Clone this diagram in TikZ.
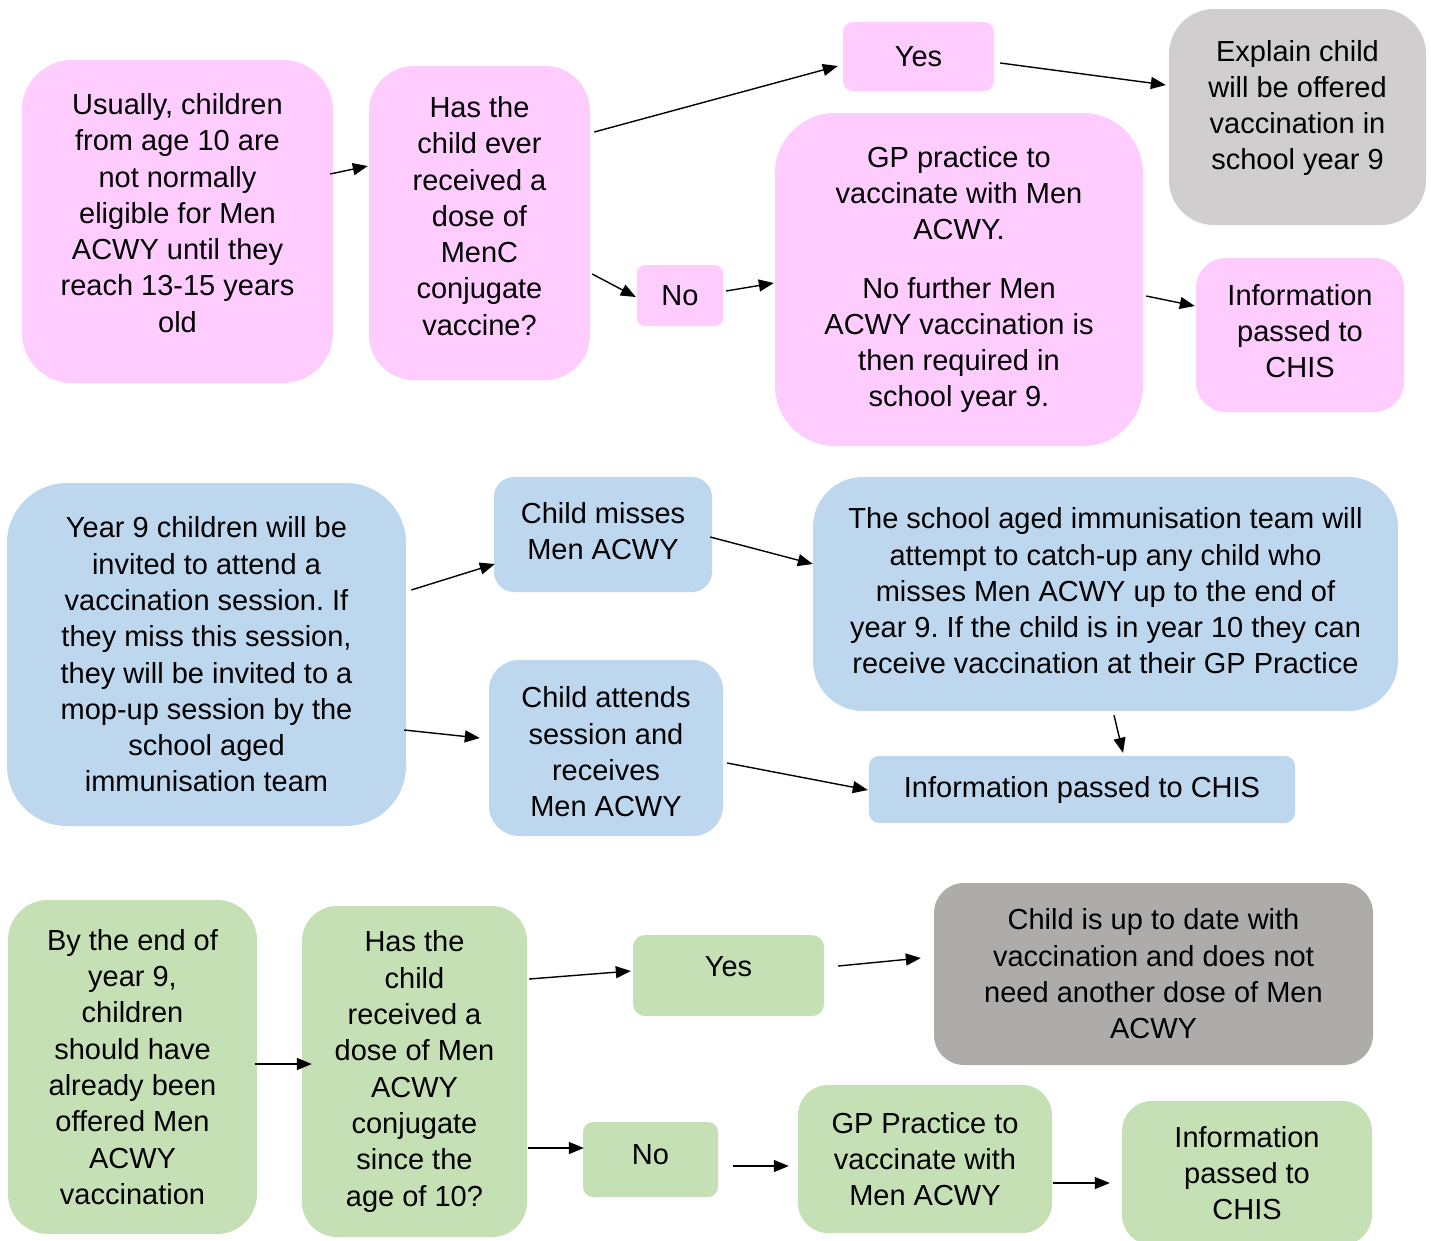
\documentclass[tikz,border=0pt]{standalone}
\usepackage{fontspec}
\setmainfont{Liberation Sans}
\usetikzlibrary{arrows.meta,calc}
\definecolor{pinkc}{HTML}{FFCCFF}
\definecolor{bluec}{HTML}{BDD7EE}
\definecolor{greenc}{HTML}{C5E0B4}
\definecolor{greyl}{HTML}{D0CECE}
\definecolor{greyd}{HTML}{AEABAB}
\frenchspacing
\begin{document}
\begin{tikzpicture}[x=1pt,y=-1pt,
 box/.style={inner sep=0pt, align=center, font=\fontsize{29}{36.3}\selectfont},
 txt/.style={inner sep=0pt, align=center, font=\fontsize{29}{36.3}\selectfont},
 arr/.style={line width=1.4pt, -{Triangle[length=15pt,width=12pt]}}]
\useasboundingbox (0,0) rectangle (1431,1240);
% ---------- pink row ----------
\node[box, fill=pinkc, rounded corners=50pt, minimum width=311pt, minimum height=323pt] (A) at (177.5,221.5) {};
\node[txt] (At) at (177.5,213) {Usually, children\\from age 10 are\\not normally\\eligible for Men\\ACWY until they\\reach 13-15 years\\old};
\node[box, fill=pinkc, rounded corners=45pt, minimum width=221pt, minimum height=314pt] (B) at (479.5,223) {};
\node[txt] (Bt) at (479.5,216) {Has the\\child ever\\received a\\dose of\\MenC\\conjugate\\vaccine?};
\node[box, fill=pinkc, rounded corners=10pt, minimum width=151pt, minimum height=69pt] (YT) at (918.5,56.5) {Yes};
\node[box, fill=pinkc, rounded corners=8pt, minimum width=86pt, minimum height=61pt] (NT) at (680,295.5) {No};
\node[box, fill=pinkc, rounded corners=60pt, minimum width=368pt, minimum height=333pt] (C) at (959,279.5) {GP practice to\\vaccinate with Men\\ACWY.\\[22pt]No further Men\\ACWY vaccination is\\then required in\\school year 9.};
\node[box, fill=greyl, rounded corners=45pt, minimum width=257pt, minimum height=216pt] (D) at (1297.5,117) {};
\node[txt] (Dt) at (1297.5,108) {Explain child\\will be offered\\vaccination in\\school year 9};
\node[box, fill=pinkc, rounded corners=30pt, minimum width=208pt, minimum height=154pt] (E) at (1300,335) {};
\node[txt] (Et) at (1300,331) {Information\\passed to\\CHIS};
% ---------- blue row ----------
\node[box, fill=bluec, rounded corners=60pt, minimum width=399pt, minimum height=343pt] (F) at (206.5,654.5) {Year 9 children will be\\invited to attend a\\vaccination session. If\\they miss this session,\\they will be invited to a\\mop-up session by the\\school aged\\immunisation team};
\node[box, fill=bluec, rounded corners=20pt, minimum width=218pt, minimum height=115pt] (G) at (603,534.5) {};
\node[txt] (Gt) at (603,531) {Child misses\\Men ACWY};
\node[box, fill=bluec, rounded corners=30pt, minimum width=234pt, minimum height=176pt] (H) at (606,748) {};
\node[txt] (Ht) at (606,752) {Child attends\\session and\\receives\\Men ACWY};
\node[box, fill=bluec, rounded corners=50pt, minimum width=585pt, minimum height=234pt] (I) at (1105.5,594) {};
\node[txt] (It) at (1105.5,591) {The school aged immunisation team will\\attempt to catch-up any child who\\misses Men ACWY up to the end of\\year 9. If the child is in year 10 they can\\receive vaccination at their GP Practice};
\node[box, fill=bluec, rounded corners=10pt, minimum width=426pt, minimum height=67pt] (J) at (1082,789.5) {Information passed to CHIS};
% ---------- green row ----------
\node[box, fill=greenc, rounded corners=40pt, minimum width=249pt, minimum height=334pt] (K) at (132.5,1067) {By the end of\\year 9,\\children\\should have\\already been\\offered Men\\ACWY\\vaccination};
\node[box, fill=greenc, rounded corners=35pt, minimum width=225pt, minimum height=331pt] (L) at (414.5,1071.5) {Has the\\child\\received a\\dose of Men\\ACWY\\conjugate\\since the\\age of 10?};
\node[box, fill=greenc, rounded corners=12pt, minimum width=191pt, minimum height=81pt] (YG) at (728.5,975.5) {};
\node[txt] (YGt) at (728.5,967) {Yes};
\node[box, fill=greenc, rounded corners=10pt, minimum width=135pt, minimum height=75pt] (NG) at (650.5,1159.5) {};
\node[txt] (NGt) at (650.5,1155) {No};
\node[box, fill=greyd, rounded corners=30pt, minimum width=439pt, minimum height=182pt] (M) at (1153.5,974) {Child is up to date with\\vaccination and does not\\need another dose of Men\\ACWY};
\node[box, fill=greenc, rounded corners=30pt, minimum width=254pt, minimum height=148pt] (N) at (925,1159) {GP Practice to\\vaccinate with\\Men ACWY};
\node[box, fill=greenc, rounded corners=30pt, minimum width=250pt, minimum height=144pt] (O) at (1247,1173) {Information\\passed to\\CHIS};
% ---------- connectors ----------
\draw[arr] ($(A.east)+(-3,-47.5)$) -- ($(B.west)+(-1,-57)$);
\draw[arr] ($(B.east)+(4,-91)$) -- ($(YT.west)+(-5,9.5)$);
\draw[arr] ($(YT.east)+(6,6.5)$) -- ($(D.west)+(-3,-32)$);
\draw[arr] ($(B.east)+(2,51)$) -- ($(NT.west)+(-1,1.5)$);
\draw[arr] ($(NT.east)+(3,-4.5)$) -- ($(C.west)+(-1,3.5)$);
\draw[arr] ($(C.east)+(3,16.5)$) -- ($(E.west)+(-1,-29)$);
\draw[arr] ($(F.east)+(5,-64.5)$) -- ($(G.west)+(1,29.5)$);
\draw[arr] ($(F.east)+(-2,75.5)$) -- ($(H.west)+(-9,-10)$);
\draw[arr] ($(G.east)+(-2,2.5)$) -- ($(I.west)+(0,-30)$);
\draw[arr] ($(H.east)+(4,15)$) -- ($(J.west)+(-1,0.5)$);
\draw[arr] ($(I.south)+(8.5,4)$) -- ($(J.north)+(41,-3)$);
\draw[arr] ($(K.east)+(-2,-3)$) -- ($(L.west)+(10,-7.5)$);
\draw[arr] ($(L.east)+(2,-92.5)$) -- ($(YG.west)+(-2,-4.5)$);
\draw[arr] ($(L.east)+(1,76.5)$) -- ($(NG.west)+(1,-11.5)$);
\draw[arr] ($(YG.east)+(14,-9.5)$) -- ($(M.west)+(-13,-16)$);
\draw[arr] ($(NG.east)+(15,6.5)$) -- ($(N.west)+(-9,7)$);
\draw[arr] ($(N.east)+(1,24)$) -- ($(O.west)+(-12,10)$);
\end{tikzpicture}
\end{document}
